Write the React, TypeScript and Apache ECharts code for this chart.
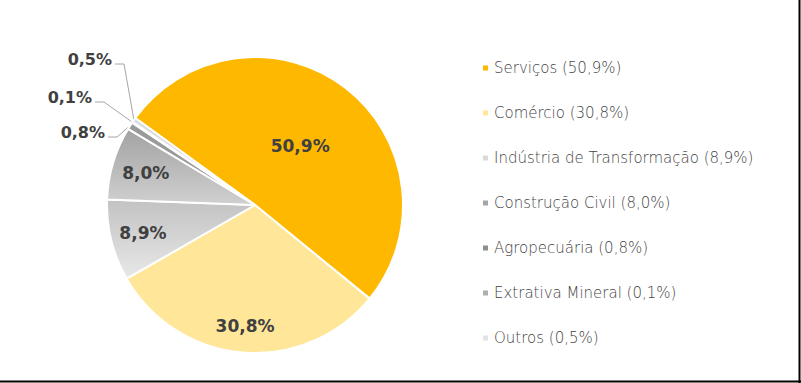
import React, { useEffect, useRef } from "react";
import * as echarts from "echarts";

const categories = [
  "Serviços",
  "Comércio",
  "Indústria de Transformação",
  "Construção Civil",
  "Agropecuária",
  "Extrativa Mineral",
  "Outros",
];
const values = [50.9, 30.8, 8.9, 8.0, 0.8, 0.1, 0.5];

// layout constants (not data)
const CX = 255;
const CY = 205;
const R = 148;
const START = 144;
const innerLabelRadius = [0.5, 0.82, 0.78, 0.77];
const outerLabelAnchor: Record<number, [number, number]> = {
  4: [105, 132],
  5: [92, 97],
  6: [112, 59],
};

const fmt = (v: number) => v.toFixed(1).replace(".", ",") + "%";

export default function App() {
  const ref = useRef<HTMLDivElement>(null);
  useEffect(() => {
    if (!ref.current) return;
    const chart = echarts.init(ref.current, undefined, { renderer: "svg" });
    const total = values.reduce((a, b) => a + b, 0);
    const mids: number[] = [];
    let cum = 0;
    values.forEach((v) => {
      mids.push(START - ((cum + v / 2) / total) * 360);
      cum += v;
    });
    const pt = (i: number, d: number): [number, number] => {
      const a = (mids[i] * Math.PI) / 180;
      return [CX + Math.cos(a) * d, CY - Math.sin(a) * d];
    };
    const colors: any[] = [
      "#FFB800",
      "#FFE699",
      new echarts.graphic.LinearGradient(0, 0, 0, 1, [
        { offset: 0, color: "#C2C2C2" },
        { offset: 1, color: "#E8E8E8" },
      ]),
      new echarts.graphic.LinearGradient(0, 0, 0, 1, [
        { offset: 0, color: "#A2A2A2" },
        { offset: 1, color: "#D0D0D0" },
      ]),
      "#9A9A9A",
      "#B5B5B5",
      "#DCDCDC",
    ];
    const legendColors = ["#FFB800", "#FFE699", "#D9D9D9", "#A6A6A6", "#8F8F8F", "#AFAFAF", "#E3E3E3"];
    const data = categories.map((name, i) => ({
      name,
      value: values[i],
      itemStyle: { color: colors[i] },
      label:
        i < 4
          ? { position: "inside", fontSize: 17 }
          : { position: "outside", fontSize: 16 },
      labelLine: { show: i >= 4 },
    }));
    chart.setOption({
      animation: false,
      graphic: [
        {
          type: "line",
          shape: { x1: 0, y1: 381.5, x2: 801, y2: 381.5 },
          style: { stroke: "#000", lineWidth: 2 },
        },
        {
          type: "line",
          shape: { x1: 799.5, y1: 0, x2: 799.5, y2: 383 },
          style: { stroke: "#000", lineWidth: 2 },
        },
      ],
      legend: {
        orient: "vertical",
        left: 476,
        top: 55,
        itemWidth: 7,
        itemHeight: 7,
        itemGap: 29,
        icon: "rect",
        data: categories.map((name, i) => ({
          name,
          itemStyle: { color: legendColors[i] },
        })),
        formatter: (name: string) => {
          const i = categories.indexOf(name);
          return `${name} (${fmt(values[i])})`;
        },
        textStyle: {
          fontFamily: "DejaVu Sans",
          fontWeight: 200,
          fontSize: 15,
          lineHeight: 16,
          color: "#454545",
        },
      },
      series: [
        {
          type: "pie",
          center: [CX, CY],
          radius: R,
          startAngle: START,
          clockwise: true,
          avoidLabelOverlap: false,
          itemStyle: { borderColor: "#fff", borderWidth: 2 },
          label: {
            show: true,
            formatter: (p: any) => fmt(p.value),
            fontFamily: "DejaVu Sans",
            fontWeight: "bold",
            color: "#404040",
          },
          labelLine: {
            show: true,
            lineStyle: { color: "#A6A6A6", width: 1 },
          },
          labelLayout: (params: any) => {
            const i = params.dataIndex;
            if (i < 4) {
              const [x, y] = pt(i, innerLabelRadius[i] * R);
              return { x, y, align: "center", verticalAlign: "middle" };
            }
            const [ax, ay] = outerLabelAnchor[i];
            const edge = pt(i, R);
            const ly = ay + 5;
            return {
              x: ax,
              y: ay,
              align: "right",
              verticalAlign: "middle",
              labelLinePoints: [edge, [ax + 12, ly], [ax + 3, ly]],
            };
          },
          data,
        },
      ],
    });
    return () => chart.dispose();
  }, []);
  return (
    <div
      ref={ref}
      style={{ position: "fixed", left: 0, top: 0, width: 801, height: 383, background: "#fff" }}
    />
  );
}
